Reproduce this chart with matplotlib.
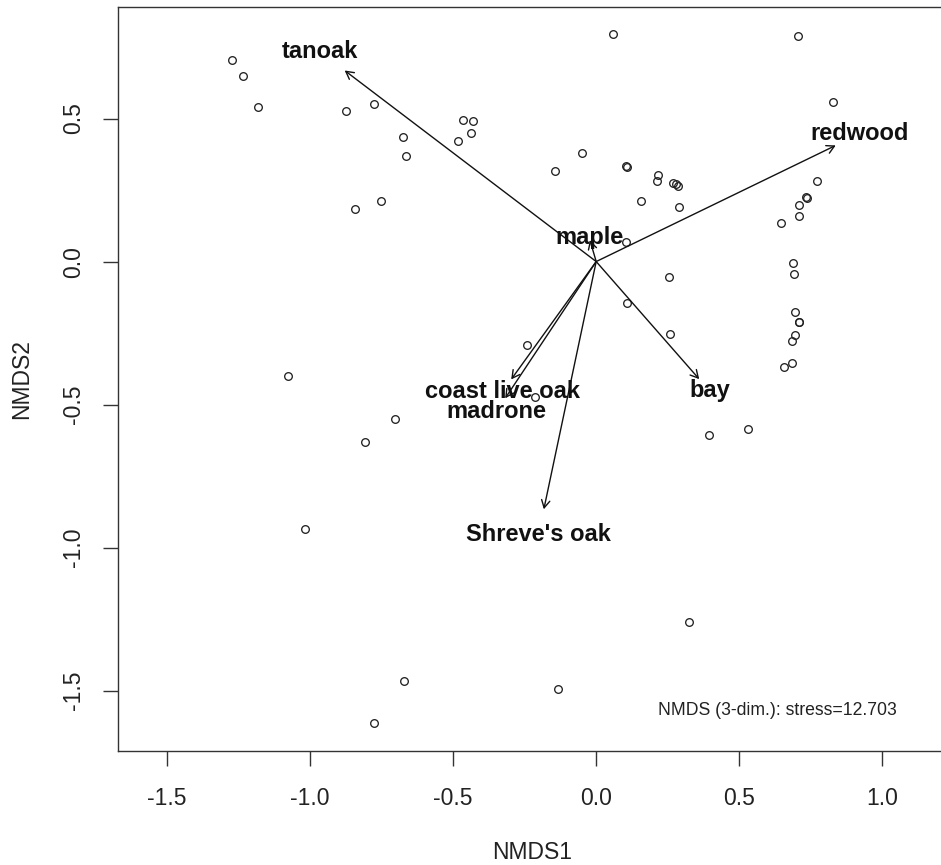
import matplotlib
matplotlib.use("Agg")
import matplotlib.pyplot as plt

plt.rcParams['font.family'] = ['Liberation Sans', 'DejaVu Sans']

# site scores (NMDS1, NMDS2)
site_x = [-1.273, -1.235, -1.182, -0.875, -0.778, -0.675, -0.665, -0.844, -0.752,
          -0.464, -0.430, -0.439, -0.484, 0.059, 0.706, 0.829, -0.049, -0.145,
          0.104, 0.106, 0.217, 0.212, 0.269, 0.278, 0.286, 0.155, 0.289, 0.771,
          0.732, 0.735, 0.708, 0.710, 0.646, 0.104, 0.689, 0.691, 0.253, 0.108,
          0.258, 0.696, 0.708, 0.710, 0.695, 0.684, 0.684, 0.657, 0.393, 0.529,
          0.325, -0.134, -0.213, -0.243, -1.078, -0.704, -0.809, -1.017, -0.672,
          -0.776]
site_y = [0.703, 0.650, 0.542, 0.528, 0.551, 0.437, 0.369, 0.183, 0.212,
          0.495, 0.493, 0.451, 0.420, 0.794, 0.790, 0.559, 0.378, 0.317,
          0.334, 0.331, 0.301, 0.282, 0.274, 0.272, 0.265, 0.211, 0.192, 0.281,
          0.225, 0.222, 0.199, 0.159, 0.136, 0.068, -0.005, -0.045, -0.055, -0.145,
          -0.252, -0.175, -0.213, -0.210, -0.257, -0.277, -0.355, -0.367, -0.608, -0.587,
          -1.259, -1.495, -0.472, -0.290, -0.401, -0.549, -0.631, -0.934, -1.466,
          -1.614]

# species vectors (envfit arrows)
species = ['tanoak', 'redwood', 'maple', 'bay', 'coast live oak', 'madrone', "Shreve's oak"]
arrow_x = [-0.879, 0.837, -0.022, 0.360, -0.297, -0.318, -0.183]
arrow_y = [0.668, 0.406, 0.075, -0.411, -0.412, -0.478, -0.866]

stress = 12.703

fig = plt.figure(figsize=(9.41, 8.65), dpi=100)
ax = fig.add_axes([0.1257, 0.1318, 0.8786, 0.8598])

ax.plot(site_x, site_y, 'o', ms=5.5, mfc='none', mec='#222222', mew=0.95)

for name, ex, ey in zip(species, arrow_x, arrow_y):
    ax.annotate('', xy=(ex, ey), xytext=(0, 0),
                arrowprops=dict(arrowstyle='->,head_length=0.55,head_width=0.3',
                                color='#111111', lw=1.0, mutation_scale=10,
                                shrinkA=0, shrinkB=0))
    ax.text(ex * 1.1, ey * 1.1, name, ha='center', va='center',
            fontsize=17, fontweight='bold', color='#111111')

ax.text(0.9416, 0.0551, 'NMDS (3-dim.): stress=%.3f' % stress, transform=ax.transAxes,
        ha='right', va='center', fontsize=12.7, color='#222222')

ax.set_xlim(-1.670, 1.219)
ax.set_ylim(-1.711, 0.889)
ax.set_xticks([-1.5, -1.0, -0.5, 0.0, 0.5, 1.0])
ax.set_yticks([-1.5, -1.0, -0.5, 0.0, 0.5])
ax.set_xticklabels(['-1.5', '-1.0', '-0.5', '0.0', '0.5', '1.0'])
ax.set_yticklabels(['-1.5', '-1.0', '-0.5', '0.0', '0.5'], rotation=90, va='center')

ax.tick_params(direction='out', length=10.8, width=1.0, color='#333333',
               labelsize=16.5, labelcolor='#222222')
ax.tick_params(axis='x', pad=15)
ax.tick_params(axis='y', pad=13)

for side in ['left', 'bottom', 'top']:
    ax.spines[side].set_color('#333333')
    ax.spines[side].set_linewidth(1.0)
ax.spines['right'].set_visible(False)

ax.set_xlabel('NMDS1', fontsize=16.5, color='#222222')
ax.set_ylabel('NMDS2', fontsize=16.5, color='#222222')
ax.xaxis.set_label_coords(0.5, -0.136)
ax.xaxis.label.set_va('center')
ax.yaxis.set_label_coords(-0.1166, 0.5)
ax.yaxis.label.set_va('center')

fig.savefig('out.png', dpi=100)
